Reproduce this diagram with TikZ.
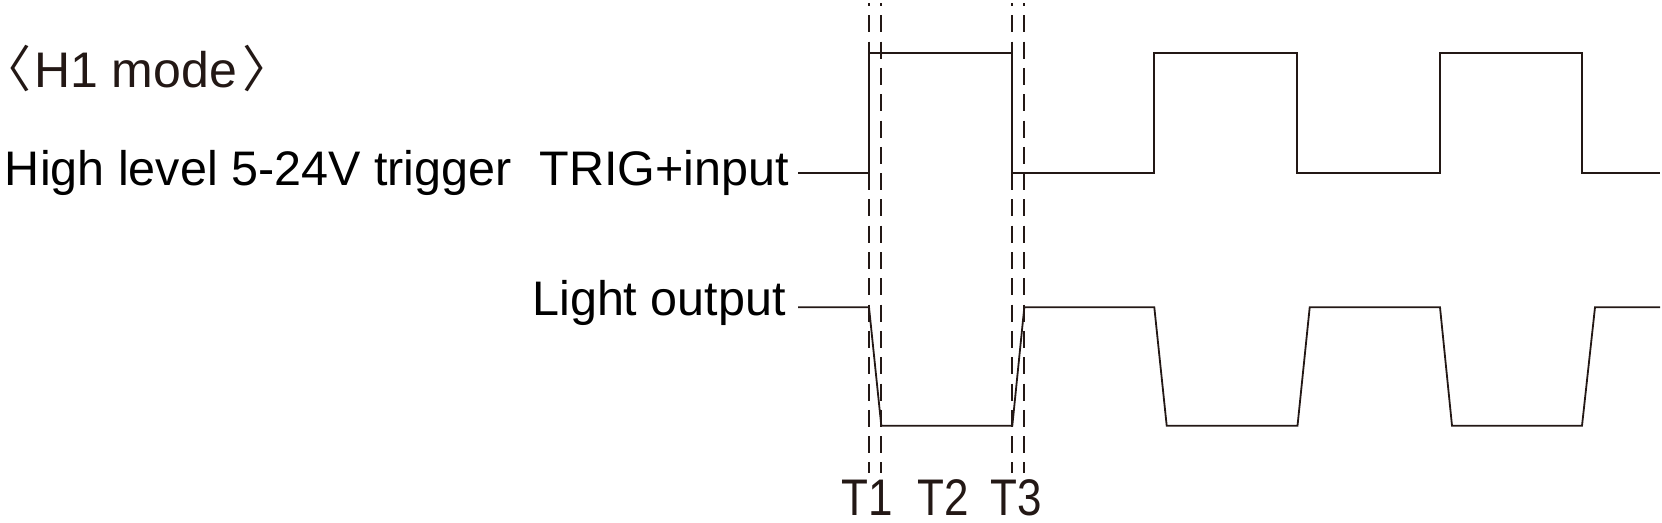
\documentclass[tikz,border=0pt]{standalone}
\usepackage{fontspec}
\setmainfont{Liberation Sans}
\newfontfamily\brkfont{Noto Sans CJK SC}
\definecolor{ink}{RGB}{35,24,21}
\newcommand{\lbrk}{{\brkfont\fontsize{50}{56}\selectfont 〈}}
\newcommand{\rbrk}{{\brkfont\fontsize{50}{56}\selectfont 〉}}
\begin{document}
\begin{tikzpicture}[x=1pt,y=-1pt,
  sig/.style={draw=ink,line width=1.8pt,line join=miter},
  guide/.style={draw=ink,line width=1.8pt,dash pattern=on 17pt off 9.3pt,dash phase=14pt},
  lbl/.style={inner sep=0pt,font=\fontsize{48.5}{58}\selectfont,text=black},
  tlbl/.style={inner sep=0pt,anchor=base,font=\fontsize{44}{52}\selectfont,text=ink}]
\useasboundingbox (0,0) rectangle (1662,522);
% labels
\node[lbl,anchor=base west,text=ink,font=\fontsize{50}{58}\selectfont] (mode) at (-19,87.5) {\lbrk\hspace{3pt}H1 mode\hspace{5pt}\rbrk};
\node[lbl,anchor=base west] (lvl) at (4.8,185) {High level 5-24V trigger};
\node[lbl,anchor=base east] (trig) at (789,185) {TRIG+input};
\node[lbl,anchor=base east] (light) at (786,315) {Light output};
\node[tlbl] (t1) at (867.5,515.5) {\scalebox{1}[1.17]{T1}};
\node[tlbl] (t2) at (943,515.5) {\scalebox{1}[1.17]{T2}};
\node[tlbl] (t3) at (1016,515.5) {\scalebox{1}[1.17]{T3}};
% guide lines
\coordinate (g1t) at (869,3);    \coordinate (g1b) at (869,473);
\coordinate (g2t) at (881.3,3);  \coordinate (g2b) at (881.3,473);
\coordinate (g3t) at (1012.3,3); \coordinate (g3b) at (1012.3,473);
\coordinate (g4t) at (1024.3,3); \coordinate (g4b) at (1024.3,473);
\draw[guide] (g1t) -- (g1b);
\draw[guide] (g2t) -- (g2b);
\draw[guide] (g3t) -- (g3b);
\draw[guide] (g4t) -- (g4b);
% TRIG+input signal
\draw[sig] (798,172.7) -- (869,172.7) -- (869,53.3) -- (1012.3,53.3) -- (1012.3,172.7)
  -- (1154.3,172.7) -- (1154.3,53.3) -- (1297,53.3) -- (1297,172.7)
  -- (1440,172.7) -- (1440,53.3) -- (1582,53.3) -- (1582,172.7) -- (1660,172.7);
% Light output signal
\draw[sig] (798,307.3) -- (869,307.3) -- (881.3,425.7) -- (1012.3,425.7) -- (1024.3,307.3)
  -- (1154.3,307.3) -- (1166.7,425.7) -- (1297.5,425.7) -- (1309.7,307.3)
  -- (1440,307.3) -- (1452,425.7) -- (1582,425.7) -- (1595,307.3) -- (1660,307.3);
\end{tikzpicture}
\end{document}
